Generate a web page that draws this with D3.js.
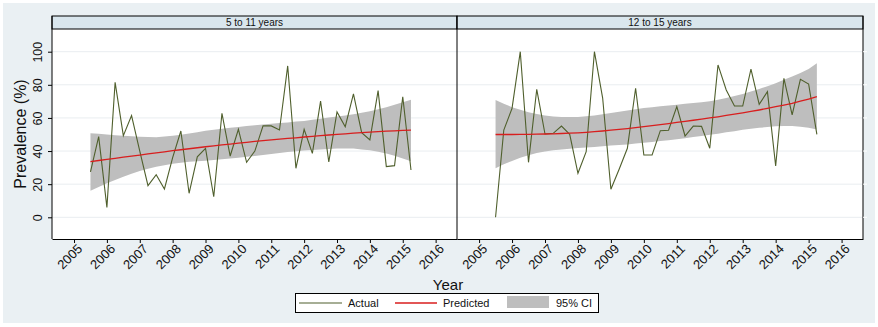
<!DOCTYPE html>
<html>
<head>
    <meta charset="UTF-8">
    <title>Prevalence by age group</title>
    <script src="https://d3js.org/d3.v7.min.js"></script>
    <style>
        body { margin: 0; background: #fff; }
        text { font-family: "Liberation Sans", Arial, sans-serif; fill: #111; }
    </style>
</head>
<body>
    <svg id="chart" width="878" height="327"></svg>
    <script>
        // quarterly observation times
        const periods = [2005.5, 2005.75, 2006, 2006.25, 2006.5, 2006.75, 2007, 2007.25, 2007.5, 2007.75,
            2008, 2008.25, 2008.5, 2008.75, 2009, 2009.25, 2009.5, 2009.75, 2010, 2010.25,
            2010.5, 2010.75, 2011, 2011.25, 2011.5, 2011.75, 2012, 2012.25, 2012.5, 2012.75,
            2013, 2013.25, 2013.5, 2013.75, 2014, 2014.25, 2014.5, 2014.75, 2015, 2015.25];

        const panelNames = ["5 to 11 years", "12 to 15 years"];
        const yearTicks = [2005, 2006, 2007, 2008, 2009, 2010, 2011, 2012, 2013, 2014, 2015, 2016];
        const yTicks = [0, 20, 40, 60, 80, 100];

        // 5 to 11 years
        const actual511 = [27.5, 48.7, 6, 81.5, 49.3, 61.4, 40, 19.1, 25.7, 17.1,
            36, 52.1, 14.5, 36.5, 41.6, 12.4, 62.8, 37, 53.1, 33.2,
            40, 55.3, 55.2, 52.7, 91.4, 29.6, 53.1, 38.6, 70.2, 33.4,
            63.6, 54.7, 74.5, 51.1, 46.7, 76.5, 30.6, 31.2, 72.8, 28.6];
        const pred511 = [33.6, 34.3, 35.0, 35.6, 36.3, 37.0, 37.6, 38.3, 38.9, 39.5,
            40.2, 40.8, 41.4, 42.0, 42.6, 43.1, 43.7, 44.2, 44.8, 45.3,
            45.8, 46.3, 46.7, 47.2, 47.6, 48.0, 48.5, 48.9, 49.3, 49.7,
            50.1, 50.4, 50.8, 51.1, 51.4, 51.7, 52.0, 52.2, 52.5, 52.7];
        const lo511 = [16.0, 18.3, 20.5, 22.5, 24.5, 26.3, 28.0, 29.3, 30.5, 31.4,
            32.3, 32.9, 33.5, 33.9, 34.2, 34.6, 35.0, 35.5, 36.0, 36.5,
            37.0, 37.6, 38.2, 38.9, 39.5, 39.9, 40.3, 40.7, 41.0, 41.3,
            41.6, 41.6, 41.5, 41.0, 40.5, 39.6, 38.5, 37.1, 35.5, 33.8];
        const hi511 = [50.8, 50.4, 50.0, 49.6, 49.2, 48.9, 48.6, 48.5, 48.4, 48.8,
            49.2, 49.9, 50.6, 51.4, 52.2, 52.9, 53.5, 54.1, 54.6, 55.1,
            55.6, 56.1, 56.5, 56.9, 57.3, 57.8, 58.2, 58.9, 59.5, 60.2,
            60.8, 61.5, 62.2, 63.1, 64.0, 65.2, 66.5, 68.0, 69.5, 71.0];

        // 12 to 15 years
        const actual1215 = [0, 52.7, 65.8, 100, 33.2, 77.3, 50.3, 50.7, 55.1, 50.1,
            26.6, 39.6, 100, 72, 16.9, 29, 41.7, 77.9, 37.6, 37.6,
            52.3, 52.6, 66.8, 49.1, 55.1, 54.9, 41.7, 92, 76.9, 67.2,
            67.2, 89.4, 68.2, 75.9, 31, 83.9, 61.8, 83.3, 80.5, 50.1];
        const pred1215 = [50.0, 50.0, 50.0, 50.1, 50.1, 50.2, 50.3, 50.4, 50.6, 50.8,
            51.0, 51.3, 51.7, 52.1, 52.6, 53.1, 53.6, 54.2, 54.8, 55.4,
            56.0, 56.6, 57.3, 57.9, 58.6, 59.3, 60.0, 60.7, 61.5, 62.3,
            63.1, 63.9, 64.8, 65.8, 66.8, 67.8, 68.8, 70.1, 71.4, 72.8];
        const lo1215 = [29.6, 32.0, 34.0, 35.9, 37.5, 38.8, 39.8, 40.5, 41.0, 41.4,
            41.8, 42.2, 42.5, 42.9, 43.3, 43.6, 44.0, 44.5, 45.0, 45.5,
            46.0, 46.6, 47.2, 47.8, 48.5, 49.1, 49.8, 50.5, 51.3, 52.0,
            52.8, 53.4, 54.0, 54.5, 55.0, 55.2, 55.2, 54.7, 54.0, 53.0];
        const hi1215 = [70.8, 68.6, 66.5, 64.9, 63.5, 62.4, 61.5, 60.9, 60.5, 60.5,
            60.6, 61.0, 61.5, 62.2, 63.0, 63.8, 64.5, 65.3, 66.0, 66.5,
            67.0, 67.5, 68.0, 68.5, 69.0, 69.5, 70.0, 71.0, 72.0, 73.2,
            74.5, 76.0, 77.5, 79.2, 81.0, 83.0, 85.0, 87.2, 89.5, 93.0];

        const panels = [
            { name: panelNames[0], actual: actual511, pred: pred511, lo: lo511, hi: hi511, x0: 52, x1: 457 },
            { name: panelNames[1], actual: actual1215, pred: pred1215, lo: lo1215, hi: hi1215, x0: 457, x1: 863 }
        ];

        const stripTop = 16, plotTop = 29, plotBottom = 239;
        const colActual = "#4f5f2c", colPred = "#d81e1e", colCI = "#bebebe";

        const svg = d3.select("#chart");

        // outer graph region
        svg.append("rect").attr("x", 3).attr("y", 3).attr("width", 872).attr("height", 320)
            .attr("fill", "#eaf0f3");

        const y = d3.scaleLinear().domain([-13.1, 113.7]).range([plotBottom, plotTop]);

        panels.forEach(function(p, pi) {
            const x = d3.scaleLinear().domain([2004.33, 2016.65]).range([p.x0, p.x1]);
            const g = svg.append("g");

            g.append("rect").attr("x", p.x0).attr("y", plotTop)
                .attr("width", p.x1 - p.x0).attr("height", plotBottom - plotTop).attr("fill", "#fff");

            // grid
            g.selectAll(".grid").data(yTicks).enter().append("line")
                .attr("x1", p.x0).attr("x2", p.x1)
                .attr("y1", d => y(d)).attr("y2", d => y(d))
                .attr("stroke", "#e9edf0").attr("stroke-width", 1);

            const rows = periods.map(function(t, i) {
                return { t: t, a: p.actual[i], p: p.pred[i], lo: p.lo[i], hi: p.hi[i] };
            });

            const area = d3.area().x(d => x(d.t)).y0(d => y(d.lo)).y1(d => y(d.hi));
            g.append("path").datum(rows).attr("d", area).attr("fill", colCI);

            const lineA = d3.line().x(d => x(d.t)).y(d => y(d.a));
            g.append("path").datum(rows).attr("d", lineA)
                .attr("fill", "none").attr("stroke", colActual).attr("stroke-width", 1.1);

            const lineP = d3.line().x(d => x(d.t)).y(d => y(d.p));
            g.append("path").datum(rows).attr("d", lineP)
                .attr("fill", "none").attr("stroke", colPred).attr("stroke-width", 1.3);

            // strip
            g.append("rect").attr("x", p.x0).attr("y", stripTop)
                .attr("width", p.x1 - p.x0).attr("height", plotTop - stripTop)
                .attr("fill", "#d9e6ed").attr("stroke", "#000").attr("stroke-width", 1);
            g.append("text").attr("x", (p.x0 + p.x1) / 2).attr("y", 26)
                .attr("text-anchor", "middle").style("font-size", "10px").text(p.name);

            // x axis
            const xAxis = g.append("g").attr("transform", "translate(0," + plotBottom + ")")
                .call(d3.axisBottom(x).tickValues(yearTicks).tickFormat(d3.format("d")).tickSize(4).tickSizeOuter(0));
            xAxis.select(".domain").attr("stroke", "#000");
            xAxis.selectAll(".tick line").attr("stroke", "#000");
            xAxis.selectAll(".tick text")
                .attr("text-anchor", "end")
                .attr("transform", "translate(2,4) rotate(-45)")
                .attr("x", 0).attr("y", 0).attr("dy", "0.72em")
                .style("font-size", "13px").attr("fill", "#111");

            // panel frame
            g.append("line").attr("x1", p.x0).attr("x2", p.x0).attr("y1", stripTop).attr("y2", plotBottom)
                .attr("stroke", "#000");
            if (pi === 1) {
                g.append("line").attr("x1", p.x1).attr("x2", p.x1).attr("y1", stripTop).attr("y2", plotBottom)
                    .attr("stroke", "#000");
                g.selectAll(".rt").data(yTicks).enter().append("line")
                    .attr("x1", p.x1).attr("x2", p.x1 + 4)
                    .attr("y1", d => y(d)).attr("y2", d => y(d))
                    .attr("stroke", "#fff");
            }
        });

        // y axis on the first panel
        const yAxis = svg.append("g").attr("transform", "translate(52,0)")
            .call(d3.axisLeft(y).tickValues(yTicks).tickSize(4).tickSizeOuter(0));
        yAxis.select(".domain").remove();
        yAxis.selectAll(".tick line").attr("stroke", "#000");
        yAxis.selectAll(".tick text")
            .attr("text-anchor", "middle")
            .attr("transform", "translate(-10,0) rotate(-90)")
            .attr("x", 0).attr("y", 0).attr("dy", "0")
            .style("font-size", "12.5px").attr("fill", "#111");

        // titles
        svg.append("text").attr("transform", "translate(26," + ((plotTop + plotBottom) / 2) + ") rotate(-90)")
            .attr("text-anchor", "middle").style("font-size", "16px").text("Prevalence (%)");
        svg.append("text").attr("x", 448).attr("y", 290)
            .attr("text-anchor", "middle").style("font-size", "15px").text("Year");

        // legend
        const leg = svg.append("g");
        leg.append("rect").attr("x", 295.5).attr("y", 293.5).attr("width", 303).attr("height", 19)
            .attr("fill", "#fff").attr("stroke", "#000");
        leg.append("line").attr("x1", 299).attr("x2", 342).attr("y1", 303).attr("y2", 303)
            .attr("stroke", colActual).attr("stroke-width", 1.1);
        leg.append("text").attr("x", 348).attr("y", 307).style("font-size", "11px").text("Actual");
        leg.append("line").attr("x1", 395).attr("x2", 437).attr("y1", 303).attr("y2", 303)
            .attr("stroke", colPred).attr("stroke-width", 1.3);
        leg.append("text").attr("x", 443).attr("y", 307).style("font-size", "11px").text("Predicted");
        leg.append("rect").attr("x", 507).attr("y", 296).attr("width", 42).attr("height", 12).attr("fill", colCI);
        leg.append("text").attr("x", 556).attr("y", 307).style("font-size", "11px").text("95% CI");
    </script>
</body>
</html>
